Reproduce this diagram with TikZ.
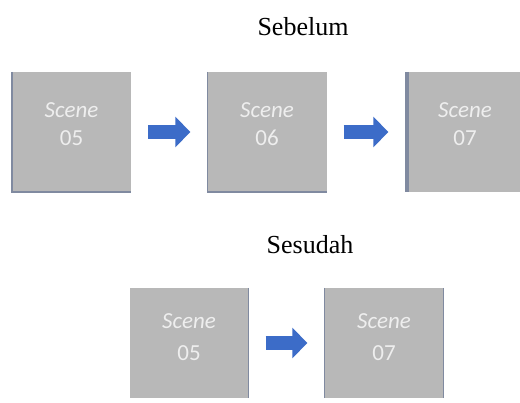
\documentclass[tikz,border=0pt]{standalone}
\usepackage{fontspec}
\setmainfont{Liberation Serif}
\newfontfamily\scenefont{Carlito}
\usetikzlibrary{arrows.meta}
\definecolor{boxgray}{RGB}{184,184,184}
\definecolor{edgeblue}{RGB}{128,138,160}
\definecolor{arrowblue}{RGB}{60,108,200}
\definecolor{scenetext}{RGB}{238,238,238}
\tikzset{
  scenebox/.style={draw=none, fill=boxgray, minimum width=119pt, minimum height=120pt, inner sep=0pt},
  lowbox/.style={scenebox, minimum height=110pt},
  scenelabel/.style={font=\scenefont\fontsize{23}{23}\selectfont, text=scenetext, inner sep=0pt},
  title/.style={font=\fontsize{26}{26}\selectfont, inner sep=0pt},
  boxedge/.style={draw=edgeblue, line width=1.4pt},
  flow/.style={arrowblue, line width=14pt, -{Triangle[length=15pt,width=30pt]}, shorten <=17pt, shorten >=17pt}
}
\begin{document}
\begin{tikzpicture}[x=1pt, y=-1pt]
  \useasboundingbox (0,0) rectangle (520,403);
  \clip (0,0) rectangle (520,403);

  % before
  \node[title] (before) at (303,27) {Sebelum};
  \node[scenebox] (b1) at (71.5,132) {};
  \node[scenebox] (b2) at (267,132) {};
  \node[scenebox] (b3) at (465,132) {};
  \draw[boxedge] (b1.north west) -- (b1.south west) -- (b1.south east);
  \draw[boxedge] (b2.north west) -- (b2.south west) -- (b2.south east);
  \draw[boxedge, line width=4pt] ([xshift=2pt]b3.north west) -- ([xshift=2pt]b3.south west);
  \node[scenelabel] (b1a) at ([yshift=22pt]b1.center) {\itshape Scene};
  \node[scenelabel] (b1b) at ([yshift=-6pt]b1.center) {05};
  \node[scenelabel] (b2a) at ([yshift=22pt]b2.center) {\itshape Scene};
  \node[scenelabel] (b2b) at ([yshift=-6pt]b2.center) {06};
  \node[scenelabel] (b3a) at ([yshift=22pt]b3.center) {\itshape Scene};
  \node[scenelabel] (b3b) at ([yshift=-6pt]b3.center) {07};
  \draw[flow] (b1.east) -- (b2.west);
  \draw[flow] (b2.east) -- (b3.west);

  % after
  \node[title] (after) at (310,245) {Sesudah};
  \node[lowbox] (a1) at (189,343) {};
  \node[lowbox] (a2) at (384,343) {};
  \draw[boxedge] (a1.north east) -- (a1.south east);
  \draw[boxedge] (a2.north west) -- (a2.south west);
  \draw[boxedge] (a2.north east) -- (a2.south east);
  \node[scenelabel] (a1a) at ([yshift=22pt]a1.center) {\itshape Scene};
  \node[scenelabel] (a1b) at ([yshift=-10pt]a1.center) {05};
  \node[scenelabel] (a2a) at ([yshift=22pt]a2.center) {\itshape Scene};
  \node[scenelabel] (a2b) at ([yshift=-10pt]a2.center) {07};
  \draw[flow] (a1.east) -- (a2.west);
\end{tikzpicture}
\end{document}
